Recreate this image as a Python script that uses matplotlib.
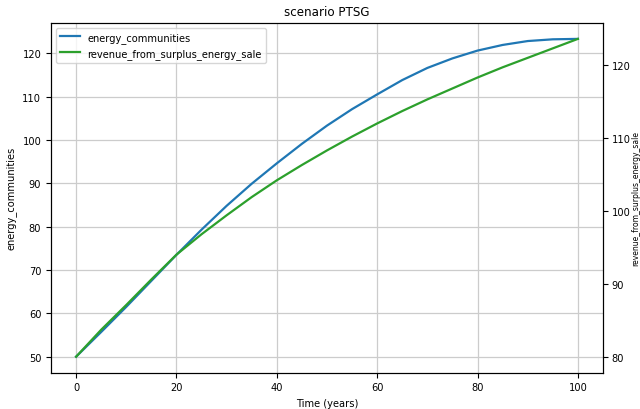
import numpy as np
import matplotlib
matplotlib.use('Agg')
import matplotlib.pyplot as plt

# values, 5-year steps
years = [0, 5, 10, 15, 20, 25, 30, 35, 40, 45, 50,
         55, 60, 65, 70, 75, 80, 85, 90, 95, 100]
energy_communities = [50.0, 55.7, 61.5, 67.5, 73.5, 79.3, 84.8, 89.9, 94.6, 99.1, 103.3,
                      107.1, 110.5, 113.8, 116.6, 118.8, 120.6, 121.9, 122.8, 123.2, 123.3]
revenue_from_surplus_energy_sale = [80.0, 83.7, 87.1, 90.6, 94.0, 96.8, 99.4, 101.9, 104.2, 106.3, 108.3,
                                    110.2, 112.0, 113.7, 115.3, 116.8, 118.3, 119.7, 121.0, 122.3, 123.6]

plt.rcParams['font.size'] = 7.1

fig = plt.figure(figsize=(6.4, 4.1), dpi=100)
ax1 = fig.add_axes([0.0797, 0.0888, 0.8625, 0.8527])
ax2 = ax1.twinx()

l1, = ax1.plot(years, energy_communities, color='tab:blue', lw=1.6, label='energy_communities')
l2, = ax2.plot(years, revenue_from_surplus_energy_sale, color='tab:green', lw=1.6,
               label='revenue_from_surplus_energy_sale')

ax1.grid(True, color='#cccccc', lw=0.9)
ax1.set_xlabel('Time (years)')
ax1.set_ylabel('energy_communities')
ax1.set_title('scenario PTSG')
ax1.legend(handles=[l1, l2], loc='upper left')

# right label squeezed against the figure edge, as in the reference
ax2.tick_params(axis='y', pad=2.6)
ax2.set_ylabel('revenue_from_surplus_energy_sale', fontsize=5.5)
ax2.yaxis.set_label_coords(1.0515, 0.5)

fig.savefig('out.png', dpi=100)
